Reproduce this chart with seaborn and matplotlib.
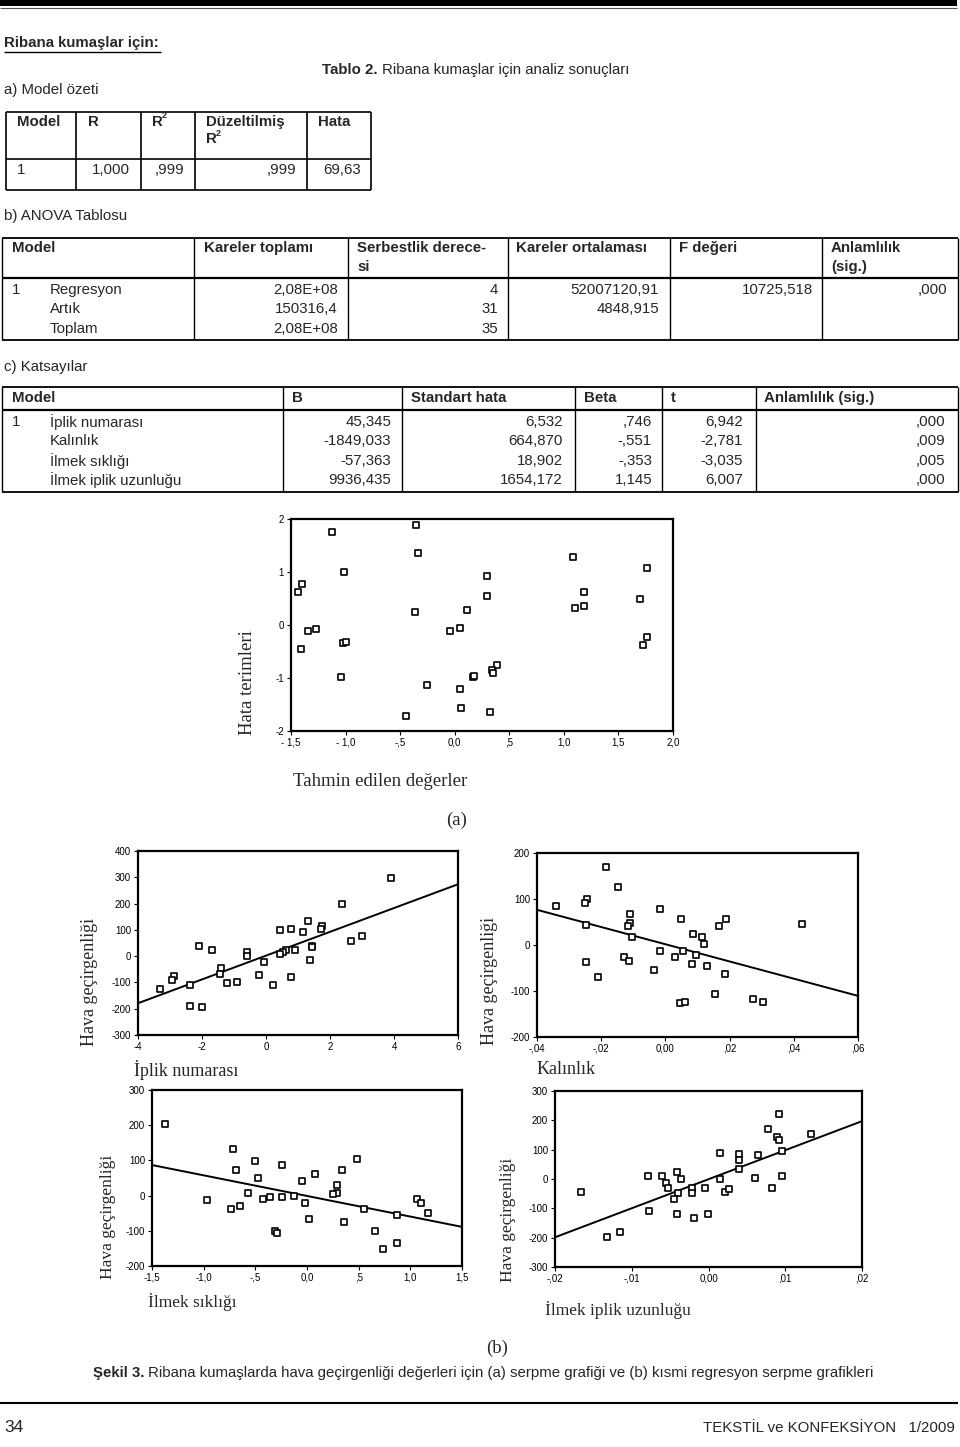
import matplotlib
matplotlib.use('Agg')
import matplotlib.pyplot as plt
import seaborn as sns
from matplotlib.patches import Rectangle

sns.set_style('white')
plt.rcParams['font.family'] = ['Liberation Sans', 'DejaVu Sans']
SERIF = ['Liberation Serif', 'DejaVu Serif']

# ---------------- table data ----------------
model_headers = ["Model", "R", "R", "Düzeltilmiş", "Hata"]
model_row = ["1", "1,000", ",999", ",999", "69,63"]

anova_headers = ["Model", "Kareler toplamı", "Serbestlik derece-", "Kareler ortalaması", "F değeri", "Anlamlılık"]
anova_rows = ["Regresyon", "Artık", "Toplam"]
anova_ss = ["2,08E+08", "150316,4", "2,08E+08"]
anova_df = ["4", "31", "35"]
anova_ms = ["52007120,91", "4848,915", ""]
anova_f = ["10725,518", "", ""]
anova_sig = [",000", "", ""]

coef_headers = ["Model", "B", "Standart hata", "Beta", "t", "Anlamlılık (sig.)"]
coef_names = ["İplik numarası", "Kalınlık", "İlmek sıklığı", "İlmek iplik uzunluğu"]
coef_b = ["45,345", "-1849,033", "-57,363", "9936,435"]
coef_se = ["6,532", "664,870", "18,902", "1654,172"]
coef_beta = [",746", "-,551", "-,353", "1,145"]
coef_t = ["6,942", "-2,781", "-3,035", "6,007"]
coef_sig = [",000", ",009", ",005", ",000"]

# ---------------- scatter data ----------------
pred_std = [-1.125, -0.356, -0.334, -1.015, -1.396, -1.436, 0.294, 0.300, 1.085, 1.759, 1.188, 1.103,
            1.188, 1.698, -0.365, 0.111, -1.347, -1.274, -1.405, -1.021, -0.997, -0.045, 0.050, 1.759,
            1.728, -1.039, -0.252, 0.172, 0.392, 0.340, 0.353, 0.050, 0.056, 0.321, -0.444, 0.180]
resid_std = [1.75, 1.89, 1.35, 1.00, 0.77, 0.62, 0.93, 0.55, 1.28, 1.07, 0.62, 0.33,
             0.35, 0.49, 0.25, 0.28, -0.11, -0.08, -0.45, -0.34, -0.32, -0.11, -0.06, -0.23,
             -0.38, -0.98, -1.14, -0.98, -0.75, -0.84, -0.90, -1.20, -1.56, -1.64, -1.72, -0.96]

iplik_x = [3.92, 2.39, 1.32, 1.74, 1.72, 1.15, 0.78, 0.45, 2.99, 2.67, 1.43, 1.43, 0.92, 0.64, 0.54,
           0.45, -0.59, -0.59, -0.07, 1.38, -0.22, 0.78, 0.21, -0.92, -1.21, -1.41, -1.45, -1.69,
           -2.10, -2.87, -2.94, -2.38, -3.31, -2.38, -2.00]
iplik_y = [299, 198, 132, 116, 105, 93, 104, 98, 75, 59, 38, 33, 23, 23, 16, 7, 16, 0, -24, -16,
           -72, -78, -108, -97, -103, -46, -69, 23, 40, -75, -90, -108, -126, -189, -194]

kal_x = [-0.0186, -0.0149, -0.0341, -0.0243, -0.0249, -0.0248, -0.0110, -0.0110, -0.0117, -0.0105,
         -0.0017, 0.0049, 0.0087, 0.0113, 0.0120, 0.0166, 0.0190, 0.0427, -0.0017, 0.0031, 0.0054,
         0.0094, 0.0082, 0.0129, -0.0130, -0.0113, -0.0248, -0.0210, -0.0036, 0.0186, 0.0156,
         0.0272, 0.0303, 0.0044, 0.0062]
kal_y = [170, 126, 84, 100, 91, 44, 67, 47, 41, 17, 78, 57, 25, 17, 3, 41, 57, 45, -12, -25, -14,
         -21, -41, -45, -25, -34, -36, -70, -54, -64, -107, -117, -124, -127, -124]

sik_x = [-1.371, -0.713, -0.684, -0.500, -0.471, -0.239, -0.048, 0.077, 0.484, 0.342, 0.287, 0.287,
         0.248, -0.574, -0.126, -0.968, -0.645, -0.739, -0.423, -0.358, -0.239, -0.023, 0.019,
         -0.313, -0.287, 0.358, 0.555, 0.655, 0.732, 0.871, 0.871, 1.065, 1.106, 1.174]
sik_y = [203, 132, 74, 99, 50, 87, 41, 60, 104, 74, 29, 6, 4, 6, 0, -13, -29, -38, -9, -5, -5, -21,
         -67, -100, -105, -75, -38, -100, -153, -135, -54, -9, -21, -50]

uz_x = [-0.01662, -0.01319, -0.0115, -0.0079, -0.00772, -0.00603, -0.00555, -0.00529, -0.00412,
        -0.00356, -0.00399, -0.00456, -0.00412, -0.00221, -0.00221, -0.00187, -0.00052, -0.00004,
        0.00156, 0.00156, 0.00213, 0.00269, 0.00399, 0.00399, 0.00399, 0.00646, 0.00607, 0.00824,
        0.00777, 0.0092, 0.00894, 0.0092, 0.00963, 0.00963, 0.01341]
uz_y = [-45, -198, -182, 10, -108, 10, -15, -29, 25, 0, -49, -69, -118, -29, -49, -133, -29, -118,
        88, 0, -44, -35, 84, 64, 34, 81, 5, -29, 172, 221, 142, 134, 94, 10, 153]

# tick labels
a_xt = [-1.5, -1.0, -0.5, 0.0, 0.5, 1.0, 1.5, 2.0]
a_xl = ["- 1,5", "- 1,0", "-,5", "0,0", ",5", "1,0", "1,5", "2,0"]
a_yt = [-2, -1, 0, 1, 2]
a_yl = ["-2", "-1", "0", "1", "2"]
p1_xt = [-4, -2, 0, 2, 4, 6]
p1_xl = ["-4", "-2", "0", "2", "4", "6"]
p1_yt = [-300, -200, -100, 0, 100, 200, 300, 400]
p1_yl = ["-300", "-200", "-100", "0", "100", "200", "300", "400"]
p2_xt = [-0.04, -0.02, 0.0, 0.02, 0.04, 0.06]
p2_xl = ["-,04", "-,02", "0,00", ",02", ",04", ",06"]
p2_yt = [-200, -100, 0, 100, 200]
p2_yl = ["-200", "-100", "0", "100", "200"]
p3_xt = [-1.5, -1.0, -0.5, 0.0, 0.5, 1.0, 1.5]
p3_xl = ["-1,5", "-1,0", "-,5", "0,0", ",5", "1,0", "1,5"]
p3_yt = [-200, -100, 0, 100, 200, 300]
p3_yl = ["-200", "-100", "0", "100", "200", "300"]
p4_xt = [-0.02, -0.01, 0.0, 0.01, 0.02]
p4_xl = ["-,02", "-,01", "0,00", ",01", ",02"]
p4_yt = [-300, -200, -100, 0, 100, 200, 300]
p4_yl = ["-300", "-200", "-100", "0", "100", "200", "300"]

# ---------------- figure ----------------
W, H = 960, 1447
fig = plt.figure(figsize=(9.6, 14.47), dpi=100)
fig.patch.set_facecolor('white')
bg = fig.add_axes([0, 0, 1, 1])
bg.set_xlim(0, W)
bg.set_ylim(H, 0)
bg.axis('off')
renderer = fig.canvas.get_renderer()

FS = 10.8


def T(x, y, s, **kw):
    kw.setdefault('fontsize', FS)
    kw.setdefault('va', 'center')
    return bg.text(x, y, s, **kw)


def right_px(t):
    return t.get_window_extent(renderer=renderer).x1 / fig.dpi * 100


def hl(x0, x1, y, lw=1.0, color='black'):
    bg.plot([x0, x1], [y, y], color=color, lw=lw, solid_capstyle='butt')


def vl(x, y0, y1, lw=1.0):
    bg.plot([x, x], [y0, y1], color='black', lw=lw, solid_capstyle='butt')


# top bar
bg.add_patch(Rectangle((0, 0), 957, 5.5, color='black', lw=0))
hl(0, 957, 7.5, lw=0.8, color='#555555')

T(4, 43, "Ribana kumaşlar için:", fontweight='bold')
hl(4, 161, 51.5, lw=1.0)
t1 = T(322, 70, "Tablo 2.", fontweight='bold')
T(right_px(t1) + 4, 70, "Ribana kumaşlar için analiz sonuçları")
T(4, 90, "a) Model özeti")

# table a
for y in (112, 159, 190):
    hl(6, 371, y, lw=1.2)
for x in (6, 76, 141, 195, 307, 371):
    vl(x, 112, 190, lw=1.2)
T(17, 122, model_headers[0], fontweight='bold')
T(88, 122, model_headers[1], fontweight='bold')
T(152, 122, model_headers[2], fontweight='bold')
T(162, 116, "2", fontweight='bold', fontsize=6.5)
T(206, 122, model_headers[3], fontweight='bold')
T(206, 139, "R", fontweight='bold')
T(216, 133, "2", fontweight='bold', fontsize=6.5)
T(318, 122, model_headers[4], fontweight='bold')
T(17, 170, model_row[0])
for xr, s in zip((130, 184, 296, 361), model_row[1:]):
    T(xr, 170, s, ha='right')

# table b
T(4, 216, "b) ANOVA Tablosu")
hl(2, 958, 238, lw=1.3)
hl(2, 958, 278, lw=1.6)
hl(2, 958, 340, lw=1.3)
for x in (2, 194, 348, 508, 670, 822, 958):
    vl(x, 238, 340, lw=1.0)
for x, s in zip((12, 204, 357, 516, 679, 831), anova_headers):
    T(x, 248, s, fontweight='bold')
T(357, 267, "si", fontweight='bold')
T(831, 267, "(sig.)", fontweight='bold')
T(12, 290, "1")
for i, y in enumerate((290, 309, 329)):
    T(50, y, anova_rows[i])
    T(338, y, anova_ss[i], ha='right')
    T(498, y, anova_df[i], ha='right')
    T(659, y, anova_ms[i], ha='right')
    T(813, y, anova_f[i], ha='right')
    T(947, y, anova_sig[i], ha='right')

# table c
T(4, 367, "c) Katsayılar")
hl(2, 958, 387, lw=1.3)
hl(2, 958, 410, lw=1.6)
hl(2, 958, 492, lw=1.3)
for x in (2, 283, 402, 575, 662, 756, 958):
    vl(x, 387, 492, lw=1.0)
for x, s in zip((12, 292, 411, 584, 671, 764), coef_headers):
    T(x, 398, s, fontweight='bold')
T(12, 422, "1")
for i, y in enumerate((422, 441, 461, 480)):
    T(50, y, coef_names[i])
    T(391, y, coef_b[i], ha='right')
    T(563, y, coef_se[i], ha='right')
    T(652, y, coef_beta[i], ha='right')
    T(743, y, coef_t[i], ha='right')
    T(945, y, coef_sig[i], ha='right')


# ---------------- plots ----------------
def box(l, r, t, b):
    return fig.add_axes([l / W, 1 - b / H, (r - l) / W, (b - t) / H])


def style(ax, xlim, ylim, xt, xl, yt, yl):
    ax.set_xlim(*xlim)
    ax.set_ylim(*ylim)
    ax.set_xticks(xt)
    ax.set_xticklabels(xl, fontsize=7)
    ax.set_yticks(yt)
    ax.set_yticklabels(yl, fontsize=7)
    ax.set_xlabel('')
    ax.set_ylabel('')
    ax.set_facecolor('white')
    for sp in ax.spines.values():
        sp.set_visible(True)
        sp.set_linewidth(1.6)
        sp.set_color('black')
    ax.tick_params(direction='out', length=3, width=0.8, pad=2, bottom=True, left=True,
                   colors='black')


def pts(ax, x, y):
    sns.scatterplot(x=x, y=y, marker='s', s=15, color='white', edgecolor='black',
                    linewidth=1.2, ax=ax, zorder=3)


def partial(ax, x, y, xlim, ylim, *ticks):
    pts(ax, x, y)
    ax.set_xlim(*xlim)
    ax.set_ylim(*ylim)
    sns.regplot(x=x, y=y, scatter=False, ci=None, truncate=False, ax=ax,
                line_kws=dict(color='black', lw=1.4))
    style(ax, xlim, ylim, *ticks)


# (a) residual scatter
axa = box(291, 673, 519, 731)
pts(axa, pred_std, resid_std)
style(axa, (-1.5, 2.0), (-2, 2), a_xt, a_xl, a_yt, a_yl)
T(248, 683, "Hata terimleri", family=SERIF, fontsize=13.5, rotation=90, ha='center')
T(293, 781, "Tahmin edilen değerler", family=SERIF, fontsize=13.5)
T(457, 820, "(a)", family=SERIF, fontsize=13.5, ha='center')

ax1 = box(138, 458, 851, 1035)
partial(ax1, iplik_x, iplik_y, (-4, 6), (-300, 400), p1_xt, p1_xl, p1_yt, p1_yl)
T(90, 982, "Hava geçirgenliği", family=SERIF, fontsize=13, rotation=90, ha='center')
T(134, 1070, "İplik numarası", family=SERIF, fontsize=13)

ax2 = box(537, 858, 853, 1037)
partial(ax2, kal_x, kal_y, (-0.04, 0.06), (-200, 200), p2_xt, p2_xl, p2_yt, p2_yl)
T(490, 981, "Hava geçirgenliği", family=SERIF, fontsize=13, rotation=90, ha='center')
T(537, 1070, "Kalınlık", family=SERIF, fontsize=13)

ax3 = box(152, 462, 1090, 1266)
partial(ax3, sik_x, sik_y, (-1.5, 1.5), (-200, 300), p3_xt, p3_xl, p3_yt, p3_yl)
T(108, 1217, "Hava geçirgenliği", family=SERIF, fontsize=12.5, rotation=90, ha='center')
T(148, 1302, "İlmek sıklığı", family=SERIF, fontsize=12.5)

ax4 = box(555, 862, 1091, 1267)
partial(ax4, uz_x, uz_y, (-0.02, 0.02), (-300, 300), p4_xt, p4_xl, p4_yt, p4_yl)
T(508, 1220, "Hava geçirgenliği", family=SERIF, fontsize=12.5, rotation=90, ha='center')
T(545, 1310, "İlmek iplik uzunluğu", family=SERIF, fontsize=12.5)

T(497, 1348, "(b)", family=SERIF, fontsize=13.5, ha='center')

# caption
cb = T(93, 1373, "Şekil 3.", fontweight='bold')
T(right_px(cb) + 4, 1373, "Ribana kumaşlarda hava geçirgenliği değerleri için (a) serpme grafiği ve "
  "(b) kısmi regresyon serpme grafikleri")

hl(0, 958, 1403, lw=1.5)
T(4, 1428, "34", fontsize=12.5)
T(955, 1428, "TEKSTİL ve KONFEKSİYON   1/2009", ha='right', fontsize=10.8)

fig.savefig('out.png', dpi=100, facecolor='white')
